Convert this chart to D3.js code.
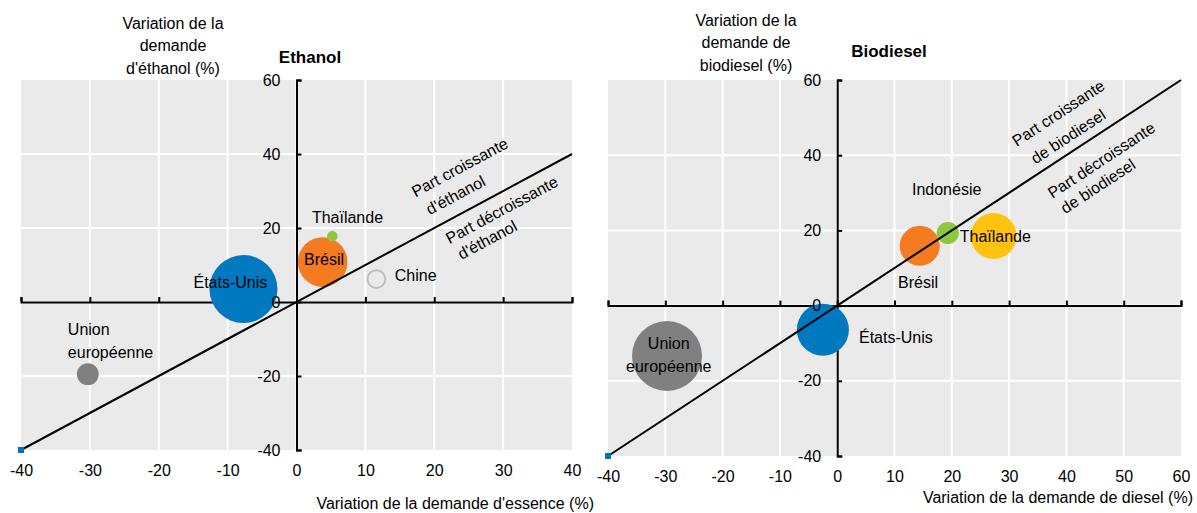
<!DOCTYPE html>
<html>
<head>
<meta charset="utf-8">
<script src="https://cdn.jsdelivr.net/npm/d3@7"></script>
<style>
  body { margin: 0; background: #fff; }
  svg text { font-family: "Liberation Sans", Arial, sans-serif; font-size: 16px; fill: #000; }
  .title { font-weight: bold; font-size: 17px; }
</style>
</head>
<body>
<svg id="chart" width="1197" height="513"></svg>
<script>
// ---- Ethanol panel data ----
var ethCountries = ["États-Unis", "Brésil", "Thaïlande", "Chine", "Union européenne"];
var ethGasolineChange = [-7.7, 3.8, 5.2, 11.6, -30.3];   // x : variation de la demande d'essence (%)
var ethEthanolChange = [3.5, 10.8, 17.8, 6.2, -19.5];    // y : variation de la demande d'éthanol (%)
var ethVolume = [58, 31, 1.4, 4, 6];                     // taille des bulles
var ethXTicks = [-40, -30, -20, -10, 0, 10, 20, 30, 40];
var ethYTicks = [-40, -20, 0, 20, 40, 60];
var ethDiagonal = [-40, 40];
// étiquettes (position en unités des axes)
var ethLabels = ["États-Unis", "Brésil", "Thaïlande", "Chine", "Union\neuropéenne"];
var ethLabelX = [-9.6, 4.0, 7.4, 17.3, -33.2];
var ethLabelY = [5.4, 11.4, 23, 7.3, -7.3];
var ethLabelAnchor = ["middle", "middle", "middle", "middle", "start"];
var ethZoneLabels = ["Part croissante", "d'éthanol", "Part décroissante", "d'éthanol"];
var ethZoneX = [23.7, 23.1, 29.8, 27.7];
var ethZoneY = [36.4, 28.9, 24.9, 16.8];

// ---- Biodiesel panel data ----
var bioCountries = ["Union européenne", "États-Unis", "Brésil", "Indonésie", "Thaïlande"];
var bioDieselChange = [-29.7, -2.5, 14.4, 19.3, 27.3];   // x : variation de la demande de diesel (%)
var bioBiodieselChange = [-13.4, -6.4, 15.9, 19.3, 18.5]; // y : variation de la demande de biodiesel (%)
var bioVolume = [15, 8.3, 4.9, 1.5, 6.5];
var bioXTicks = [-40, -30, -20, -10, 0, 10, 20, 30, 40, 50, 60];
var bioYTicks = [-40, -20, 0, 20, 40, 60];
var bioDiagonal = [-40, 60];
var bioLabels = ["Union\neuropéenne", "États-Unis", "Brésil", "Indonésie", "Thaïlande"];
var bioLabelX = [-29.4, 3.8, 14.1, 19.1, 27.6];
var bioLabelY = [-10, -8.4, 6.1, 30.9, 18.5];
var bioLabelAnchor = ["middle", "start", "middle", "middle", "middle"];
var bioZoneLabels = ["Part croissante", "de biodiesel", "Part décroissante", "de biodiesel"];
var bioZoneX = [38.6, 40.3, 46.1, 45.5];
var bioZoneY = [51.2, 45, 38.7, 31.8];

var svg = d3.select("#chart");
var plainNumber = function(d) { return String(d); };   // trait d'union simple, pas de signe moins typographique

function drawPanel(p) {
  var g = svg.append("g");
  var x = d3.scaleLinear().domain(d3.extent(p.xTicks)).range([p.x0, p.x1]);
  var y = d3.scaleLinear().domain(d3.extent(p.yTicks)).range([p.y1, p.y0]);
  var r = d3.scaleSqrt().domain([0, d3.max(p.volume)]).range([0, p.rMax]);

  // fond + grille
  g.append("rect")
    .attr("x", x.range()[0]).attr("y", y.range()[1])
    .attr("width", x.range()[1] - x.range()[0])
    .attr("height", y.range()[0] - y.range()[1])
    .attr("fill", "#EAEAEA");

  g.selectAll(".vgrid").data(p.xTicks.slice(1, -1)).enter().append("line")
    .attr("x1", function(d) { return x(d); }).attr("x2", function(d) { return x(d); })
    .attr("y1", y.range()[1]).attr("y2", y.range()[0])
    .attr("stroke", "#fff").attr("stroke-width", 2);

  g.selectAll(".hgrid").data(p.yTicks.slice(1, -1)).enter().append("line")
    .attr("y1", function(d) { return y(d); }).attr("y2", function(d) { return y(d); })
    .attr("x1", x.range()[0]).attr("x2", x.range()[1])
    .attr("stroke", "#fff").attr("stroke-width", 2);

  // axes (traits)
  var xAxis = g.append("g")
    .attr("transform", "translate(0," + y(0) + ")")
    .call(d3.axisTop(x).tickValues(p.xTicks).tickSize(5).tickFormat(""));
  var yAxis = g.append("g")
    .attr("transform", "translate(" + x(0) + ",0)")
    .call(d3.axisLeft(y).tickValues(p.yTicks).tickSize(-5).tickFormat(""));
  [xAxis, yAxis].forEach(function(a) {
    a.selectAll("path, line").attr("stroke", "#000").attr("stroke-width", 2);
  });

  // bulles
  var pts = p.countries.map(function(c, i) {
    return { name: c, x: p.xv[i], y: p.yv[i], v: p.volume[i] };
  });
  g.selectAll(".bubble").data(pts).enter().append("circle")
    .attr("cx", function(d) { return x(d.x); })
    .attr("cy", function(d) { return y(d.y); })
    .attr("r", function(d) { return r(d.v); })
    .attr("fill", function(d) { return p.colors[d.name]; })
    .attr("stroke", function(d) { return p.colors[d.name] === "none" ? "#BFBFBF" : "none"; })
    .attr("stroke-width", 2);

  // diagonale
  var line = d3.line().x(function(d) { return x(d); }).y(function(d) { return y(d); });
  g.append("path").datum(p.diagonal)
    .attr("d", line).attr("fill", "none").attr("stroke", "#000").attr("stroke-width", 2);
  g.append("rect")
    .attr("x", x(p.diagonal[0]) - 3).attr("y", y(p.diagonal[0]) - 3)
    .attr("width", 6).attr("height", 6).attr("fill", "#0072BC");

  // libellés des graduations
  var xl = g.append("g")
    .attr("transform", "translate(0," + y.range()[0] + ")")
    .call(d3.axisBottom(x).tickValues(p.xTicks).tickSize(0).tickPadding(15).tickFormat(plainNumber));
  var yl = g.append("g")
    .attr("transform", "translate(" + x(0) + ",0)")
    .call(d3.axisLeft(y).tickValues(p.yTicks).tickSize(0).tickPadding(16).tickFormat(plainNumber));
  [xl, yl].forEach(function(a) {
    a.attr("font-size", null).attr("font-family", null);
    a.select(".domain").remove();
  });

  // étiquettes des pays
  p.labels.forEach(function(t, i) {
    var txt = g.append("text")
      .attr("x", x(p.labelX[i])).attr("y", y(p.labelY[i]))
      .attr("text-anchor", p.labelAnchor[i]);
    t.split("\n").forEach(function(s, k) {
      txt.append("tspan").attr("x", x(p.labelX[i])).attr("dy", k === 0 ? "0.35em" : 23.5).text(s);
    });
  });

  // zones de part croissante / décroissante
  var angle = Math.atan((y(0) - y(1)) / (x(1) - x(0))) * 180 / Math.PI;
  p.zoneLabels.forEach(function(t, i) {
    g.append("text")
      .attr("transform", "translate(" + x(p.zoneX[i]) + "," + y(p.zoneY[i]) + ") rotate(" + (-angle) + ")")
      .attr("text-anchor", "middle").attr("dy", "0.35em")
      .text(t);
  });

  // titres
  g.append("text").attr("class", "title")
    .attr("x", p.titleX).attr("y", p.titleY).attr("dy", "0.35em")
    .attr("text-anchor", "middle").text(p.title);
  p.yTitle.forEach(function(s, k) {
    g.append("text")
      .attr("x", p.yTitleX).attr("y", p.yTitleY + k * 22.5).attr("dy", "0.35em")
      .attr("text-anchor", "middle").text(s);
  });
  g.append("text")
    .attr("x", p.xTitleX).attr("y", p.xTitleY).attr("dy", "0.35em")
    .attr("text-anchor", "end").text(p.xTitle);
}

drawPanel({
  countries: ethCountries, xv: ethGasolineChange, yv: ethEthanolChange, volume: ethVolume,
  xTicks: ethXTicks, yTicks: ethYTicks, diagonal: ethDiagonal,
  labels: ethLabels, labelX: ethLabelX, labelY: ethLabelY, labelAnchor: ethLabelAnchor,
  zoneLabels: ethZoneLabels, zoneX: ethZoneX, zoneY: ethZoneY,
  colors: { "États-Unis": "#0079C1", "Brésil": "#F47B20", "Thaïlande": "#8DC63F", "Chine": "none", "Union européenne": "#808080" },
  x0: 21, x1: 572, y0: 80, y1: 450, rMax: 34,
  title: "Ethanol", titleX: 310, titleY: 57,
  yTitle: ["Variation de la", "demande", "d'éthanol (%)"], yTitleX: 173, yTitleY: 23,
  xTitle: "Variation de la demande d'essence (%)", xTitleX: 594, xTitleY: 503
});

drawPanel({
  countries: bioCountries, xv: bioDieselChange, yv: bioBiodieselChange, volume: bioVolume,
  xTicks: bioXTicks, yTicks: bioYTicks, diagonal: bioDiagonal,
  labels: bioLabels, labelX: bioLabelX, labelY: bioLabelY, labelAnchor: bioLabelAnchor,
  zoneLabels: bioZoneLabels, zoneX: bioZoneX, zoneY: bioZoneY,
  colors: { "Union européenne": "#808080", "États-Unis": "#0079C1", "Brésil": "#F47B20", "Indonésie": "#8DC63F", "Thaïlande": "#FFC20E" },
  x0: 608, x1: 1181, y0: 80, y1: 456, rMax: 35,
  title: "Biodiesel", titleX: 889, titleY: 51,
  yTitle: ["Variation de la", "demande de", "biodiesel (%)"], yTitleX: 746, yTitleY: 20,
  xTitle: "Variation de la demande de diesel (%)", xTitleX: 1193, xTitleY: 497
});
</script>
</body>
</html>
